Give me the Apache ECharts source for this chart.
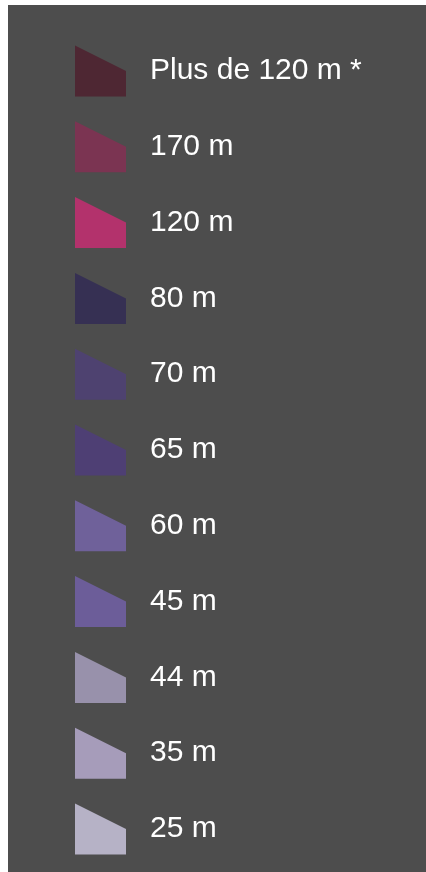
<!DOCTYPE html>
<html>
<head>
<meta charset="utf-8">
<script src="https://cdn.jsdelivr.net/npm/echarts@6/dist/echarts.min.js"></script>
<style>
  html, body { margin: 0; padding: 0; background: #ffffff; }
  #mycharts { position: absolute; left: 8px; top: 5px; width: 418px; height: 867px; background: #4d4d4d; }
</style>
</head>
<body>
<div id="mycharts"></div>
<script>
// classes de hauteur (légende)
var heights = ['Plus de 120 m *', '170 m', '120 m', '80 m', '70 m', '65 m', '60 m', '45 m', '44 m', '35 m', '25 m'];
var palette = ['#4e2733', '#7b3452', '#b3326c', '#363053', '#4e4270', '#4e3f74', '#6f619a', '#6c5d99', '#9891ab', '#a69cba', '#b6b2c6'];

var myChart = echarts.init(document.getElementById('mycharts'));

var series = heights.map(function(name, i) {
    return {
        name: name,
        type: 'bar',
        data: [],
        itemStyle: { color: palette[i] }
    };
});

var option = {
    backgroundColor: '#4d4d4d',
    animation: false,
    grid: { show: false, left: 0, right: 0, top: 0, bottom: 0 },
    xAxis: { show: false, type: 'category', data: [] },
    yAxis: { show: false, type: 'value' },
    legend: {
        orient: 'vertical',
        left: 67,
        top: 40.5,
        padding: 0,
        itemWidth: 51,
        itemHeight: 51,
        itemGap: 24.8,
        selectedMode: false,
        icon: 'path://M0,0L2,1L2,2L0,2Z',
        data: heights,
        textStyle: {
            color: '#ffffff',
            fontSize: 30,
            fontFamily: 'Liberation Sans, Arial, sans-serif',
            padding: [0, 0, 0, 19]
        }
    },
    series: series
};

myChart.setOption(option);
</script>
</body>
</html>
